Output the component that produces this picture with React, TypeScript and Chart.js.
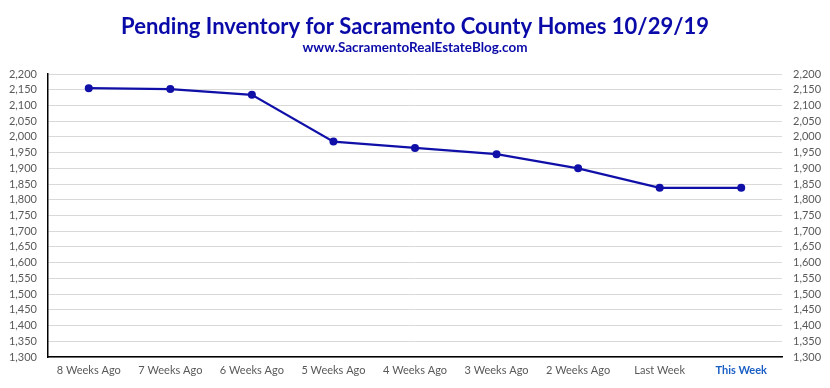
import React, { useEffect, useRef } from "react";
import { Chart, registerables } from "chart.js";

Chart.register(...registerables);

const categories = [
  "8 Weeks Ago",
  "7 Weeks Ago",
  "6 Weeks Ago",
  "5 Weeks Ago",
  "4 Weeks Ago",
  "3 Weeks Ago",
  "2 Weeks Ago",
  "Last Week",
  "This Week",
];
const pending = [2155, 2152, 2134, 1985, 1965, 1945, 1900, 1838, 1838];
const titleText = "Pending Inventory for Sacramento County Homes 10/29/19";
const subtitleText = "www.SacramentoRealEstateBlog.com";
const yMin = 1300;
const yMax = 2200;
const yStep = 50;

const TICK_FONT = "Lato, 'Open Sans', sans-serif";
const TITLE_FONT = "Lato, 'Open Sans', sans-serif";

export default function App() {
  const ref = useRef<HTMLCanvasElement | null>(null);
  useEffect(() => {
    document.body.style.margin = "0";
    const canvas = ref.current;
    if (!canvas) return;
    const lastIdx = categories.length - 1;
    const fmt = (v: any) => Number(v).toLocaleString("en-US");
    const chart = new Chart(canvas, {
      type: "line",
      data: {
        labels: categories,
        datasets: [
          {
            data: pending,
            borderColor: "#1010a8",
            backgroundColor: "#1010a8",
            borderWidth: 2.25,
            pointRadius: 4,
            pointBackgroundColor: "#1010a8",
            pointBorderWidth: 0,
            tension: 0,
            yAxisID: "y",
          },
        ],
      },
      options: {
        responsive: false,
        animation: false,
        layout: { padding: { left: 0, right: 0, top: 0, bottom: 0 } },
        plugins: {
          legend: { display: false },
          tooltip: { enabled: false },
          title: {
            display: true,
            text: titleText,
            color: "#0a0aa8",
            font: { family: TITLE_FONT, size: 22, weight: "bold", lineHeight: 1.05 },
            padding: { top: 15, bottom: 0 },
          },
          subtitle: {
            display: true,
            text: subtitleText,
            color: "#0a0aa8",
            font: { family: TITLE_FONT, size: 13.5, weight: "bold", lineHeight: 1.2 },
            padding: { top: 1, bottom: 18.7 },
          },
        },
        scales: {
          x: {
            offset: true,
            grid: { display: true, drawOnChartArea: false, drawTicks: false },
            border: { display: true, color: "#000000", width: 1.5 },
            ticks: {
              padding: 7,
              autoSkip: false,
              maxRotation: 0,
              color: (ctx: any) => (ctx.index === lastIdx ? "#1c5fc4" : "#595959"),
              font: (ctx: any) => ({
                family: TICK_FONT,
                size: 11,
                weight: ctx.index === lastIdx ? "bold" : "normal",
              }),
            },
            afterFit: (s: any) => {
              s.height = 31;
            },
          },
          y: {
            position: "left",
            min: yMin,
            max: yMax,
            grid: { color: "#d9d9d9", lineWidth: 1, drawTicks: false },
            border: { display: true, color: "#000000", width: 1.5 },
            ticks: {
              stepSize: yStep,
              autoSkip: false,
              padding: 11,
              color: "#595959",
              font: { family: TICK_FONT, size: 11 },
              callback: fmt,
            },
            afterFit: (s: any) => {
              s.width = 48;
            },
          },
          y2: {
            position: "right",
            min: yMin,
            max: yMax,
            grid: { display: false, drawTicks: false },
            border: { display: false },
            ticks: {
              stepSize: yStep,
              autoSkip: false,
              padding: 11,
              color: "#595959",
              font: { family: TICK_FONT, size: 11 },
              callback: fmt,
            },
            afterFit: (s: any) => {
              s.width = 48;
            },
          },
        },
      },
    });
    return () => chart.destroy();
  }, []);
  return (
    <div style={{ position: "absolute", left: 0, top: 0, width: 830, height: 388, background: "#fff" }}>
      <canvas ref={ref} width={830} height={388} style={{ display: "block" }} />
    </div>
  );
}
